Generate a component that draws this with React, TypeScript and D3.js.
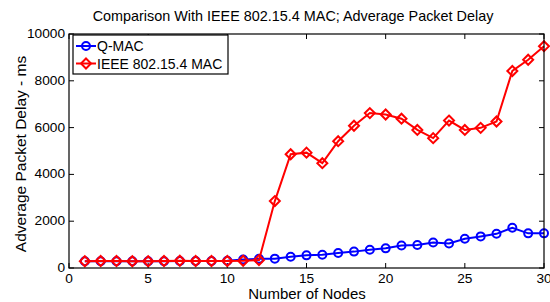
import React from "react";
import * as d3 from "d3";

const nodes = Array.from({ length: 30 }, (_, i) => i + 1);
const qmac = [290, 290, 290, 290, 290, 290, 300, 300, 300, 310, 360, 390, 400, 480, 540, 570, 640, 700, 780, 840, 960, 980, 1090, 1050, 1250, 1350, 1460, 1720, 1480, 1480];
const ieee = [290, 300, 300, 290, 290, 300, 310, 300, 300, 300, 310, 340, 2860, 4860, 4930, 4480, 5420, 6080, 6620, 6560, 6380, 5900, 5550, 6300, 5900, 5990, 6260, 8420, 8900, 9480];
const xTicks = [0, 5, 10, 15, 20, 25, 30];
const yTicks = [0, 2000, 4000, 6000, 8000, 10000];
const seriesNames = ["Q-MAC", "IEEE 802.15.4 MAC"];
const titleText = "Comparison With IEEE 802.15.4 MAC; Adverage Packet Delay";
const xLabel = "Number of Nodes";
const yLabel = "Adverage Packet Delay - ms";

const W = 550, H = 302;
const L = 69, R = 544, T = 34, B = 268;
const font = "'Liberation Sans', Arial, Helvetica, sans-serif";

export default function App() {
  const x = d3.scaleLinear().domain([0, 30]).range([L, R]);
  const y = d3.scaleLinear().domain([0, 10000]).range([B, T]);
  const line = d3.line<number>().x((_, i) => x(nodes[i])).y((d) => y(d));
  const diamond = (cx: number, cy: number, s: number) =>
    `M${cx},${cy - s}L${cx + s},${cy}L${cx},${cy + s}L${cx - s},${cy}Z`;
  const tl = 5;
  return (
    <svg width={W} height={H} style={{ position: "absolute", left: 0, top: 0, background: "#fff" }}
      fontFamily={font}>
      <rect x={0} y={0} width={W} height={H} fill="#fff" />
      <text x={293} y={20.5} textAnchor="middle" fontSize={14.4}>{titleText}</text>
      {/* ticks */}
      {xTicks.map((t) => (
        <g key={"x" + t}>
          <line x1={x(t)} x2={x(t)} y1={B} y2={B - tl} stroke="#000" />
          <line x1={x(t)} x2={x(t)} y1={T} y2={T + tl} stroke="#000" />
          <text x={x(t)} y={B + 14.5} textAnchor="middle" fontSize={13.7}>{t}</text>
        </g>
      ))}
      {yTicks.map((t) => (
        <g key={"y" + t}>
          <line x1={L} x2={L + tl} y1={y(t)} y2={y(t)} stroke="#000" />
          <line x1={R} x2={R - tl} y1={y(t)} y2={y(t)} stroke="#000" />
          <text x={L - 4} y={y(t) + 4} textAnchor="end" fontSize={13.7}>{t}</text>
        </g>
      ))}
      <text x={307} y={298.5} textAnchor="middle" fontSize={15}>{xLabel}</text>
      <text transform={`translate(26,154) rotate(-90)`} textAnchor="middle" fontSize={15.5}>{yLabel}</text>
      {/* series */}
      <path d={line(qmac) || ""} fill="none" stroke="#0000ff" strokeWidth={2} />
      {qmac.map((v, i) => (
        <circle key={"q" + i} cx={x(nodes[i])} cy={y(v)} r={4} fill="none" stroke="#0000ff" strokeWidth={2} />
      ))}
      <path d={line(ieee) || ""} fill="none" stroke="#ff0000" strokeWidth={2} />
      {ieee.map((v, i) => (
        <path key={"e" + i} d={diamond(x(nodes[i]), y(v), 5)} fill="none" stroke="#ff0000" strokeWidth={2} />
      ))}
      {/* box */}
      <rect x={L} y={T} width={R - L} height={B - T} fill="none" stroke="#000" strokeWidth={1.2} />
      {/* legend */}
      <g>
        <rect x={73} y={35} width={155} height={39} fill="#fff" stroke="#000" strokeWidth={1.2} />
        <line x1={76} x2={96} y1={46} y2={46} stroke="#0000ff" strokeWidth={2} />
        <circle cx={86} cy={46} r={4} fill="none" stroke="#0000ff" strokeWidth={2} />
        <text x={97} y={51} fontSize={14}>{seriesNames[0]}</text>
        <line x1={76} x2={96} y1={63.5} y2={63.5} stroke="#ff0000" strokeWidth={2} />
        <path d={diamond(86, 63.5, 5)} fill="none" stroke="#ff0000" strokeWidth={2} />
        <text x={97} y={68.5} fontSize={14}>{seriesNames[1]}</text>
      </g>
    </svg>
  );
}
